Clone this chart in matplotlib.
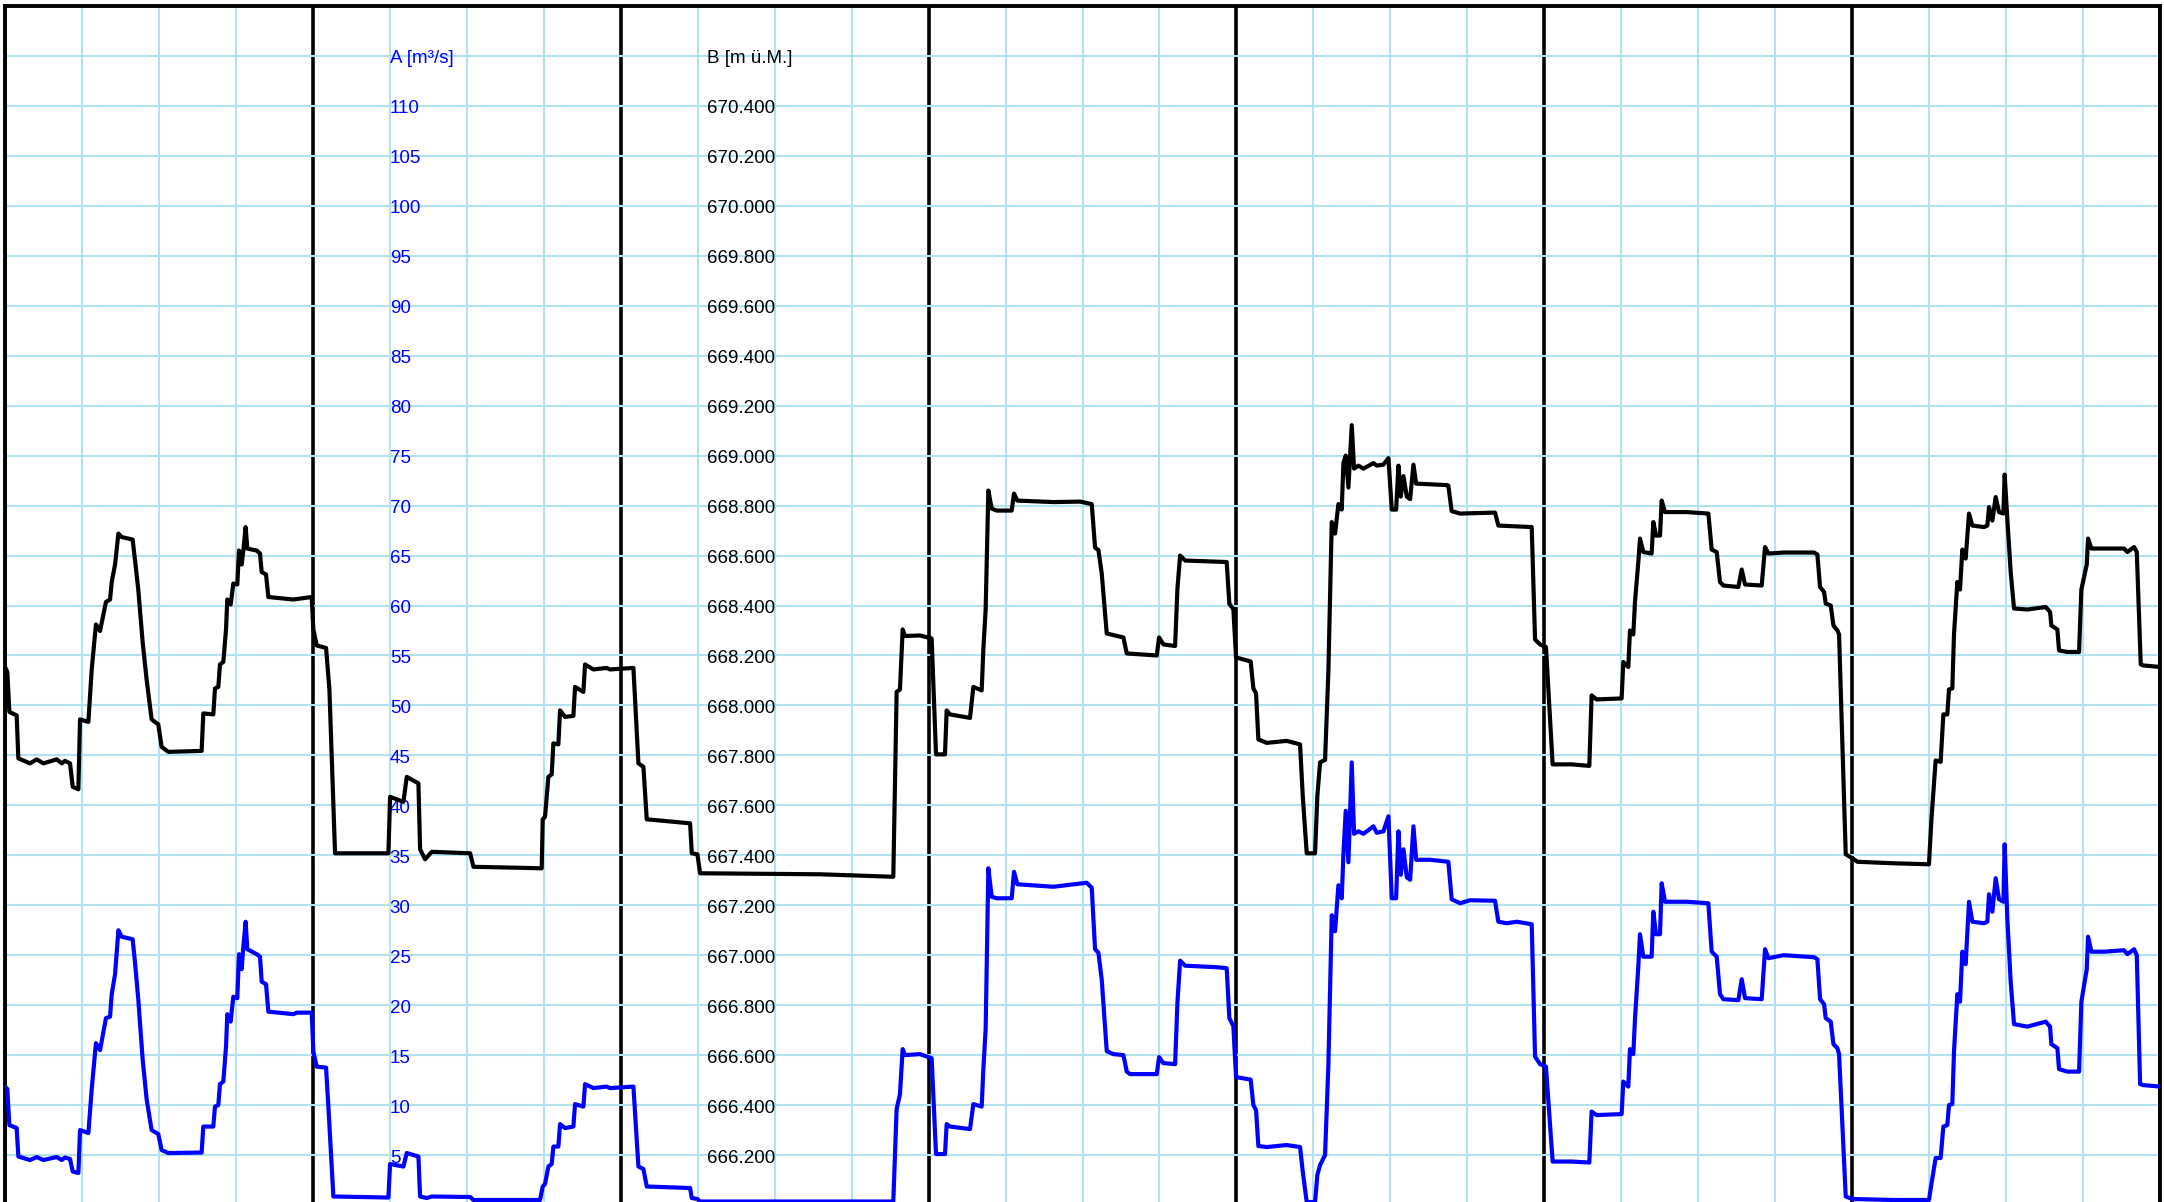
import matplotlib
matplotlib.use("Agg")
import matplotlib.pyplot as plt

# Abfluss A [m3/s] -- Zeit in Stunden ab Beginn der Woche
hours_a = [0.0, 0.18, 0.34, 0.91, 1.04, 1.95, 2.47, 2.99, 4.03, 4.42, 4.68, 5.07, 5.28, 5.72, 5.85,
           6.50, 6.76, 7.09, 7.41, 7.87, 8.19, 8.32, 8.58, 8.84, 9.10, 9.95, 10.13, 10.39, 10.73,
           11.04, 11.43, 11.95, 12.21, 12.73, 15.33, 15.46, 16.24, 16.37, 16.63, 16.76, 17.02,
           17.23, 17.33, 17.59, 17.80, 18.11, 18.24, 18.45, 18.58, 18.76, 18.89, 19.62, 19.88,
           20.01, 20.35, 20.53, 22.48, 22.74, 23.91, 24.04, 24.30, 25.03, 25.21, 25.60,
           29.89, 30.02, 31.06, 31.32, 32.23, 32.36, 32.88, 33.27, 36.26, 36.52, 41.71, 41.92,
           42.10, 42.36, 42.62, 42.75, 43.14, 43.27, 43.66, 44.31, 44.44, 45.09, 45.22, 45.87,
           46.91, 47.17, 48.99, 49.38, 49.77, 50.03, 53.41, 53.54, 53.98, 54.19,
           69.25, 69.51, 69.77, 69.98, 70.16, 71.33, 72.24, 72.58, 73.28, 73.41, 73.67, 75.23,
           75.49, 76.14, 76.27, 76.45, 76.66, 76.92, 77.31, 78.48, 78.66, 78.92, 81.73,
           84.33, 84.72, 84.98, 85.24, 85.50, 85.89, 86.41, 87.19, 87.45, 87.71, 89.79, 89.97,
           90.31, 91.22, 91.40, 91.61, 92.00, 94.46, 95.24, 95.45, 95.76, 95.97, 97.11, 97.32,
           97.53, 97.71, 98.36, 99.92, 100.96, 101.17, 101.48, 102.13, 102.31, 102.52, 102.91,
           103.17, 103.43, 103.69, 103.95, 104.21, 104.34, 104.52, 104.73, 104.99, 105.17,
           105.51, 105.90, 106.68, 106.94, 107.46, 107.85, 108.11, 108.45, 108.63, 108.81,
           109.02, 109.28, 109.54, 109.80, 110.01, 111.10,
           112.52, 112.78, 113.43, 114.21, 116.16, 116.42, 117.07, 117.85, 119.02, 119.28,
           119.67, 120.13, 120.65, 122.13, 123.51, 123.69, 124.08, 126.03, 126.16, 126.55,
           126.68, 126.94, 127.07, 127.33, 127.46, 127.72, 128.37, 128.50, 128.71, 129.02,
           129.15, 129.41, 131.10, 132.79, 133.05, 133.44, 133.70, 133.96, 135.13, 135.39,
           135.65, 136.95, 137.21, 137.47, 138.64, 141.03,
           141.29, 141.50, 141.81, 141.94, 142.33, 142.54, 142.85, 142.98, 143.50, 144.02,
           147.27, 149.99, 150.18, 150.51, 150.90, 151.11, 151.42, 151.55, 151.81, 151.94,
           152.20, 152.41, 152.59, 152.85, 153.11, 153.37, 154.28, 154.54, 154.67, 154.93,
           155.19, 155.45, 155.79, 155.89, 156.10, 156.36, 156.62, 157.66, 159.09, 159.43,
           159.53, 160.00, 160.13, 160.78, 161.69, 161.87, 162.29, 162.39, 162.65, 163.64,
           165.20, 165.46, 165.98, 166.19, 166.45, 166.70, 168.0]
flow_a = [11.85, 11.6, 8.0, 7.7, 4.85, 4.5, 4.8, 4.5, 4.8, 4.5, 4.75, 4.6, 3.35, 3.2, 7.5,
          7.2, 11.6, 16.2, 15.5, 18.7, 18.85, 21.1, 23.1, 27.5, 26.85, 26.6, 24.35, 20.6, 14.6,
          10.6, 7.5, 7.1, 5.5, 5.2, 5.25, 7.85, 7.85, 9.85, 10.0, 12.1, 12.35,
          15.85, 19.1, 18.35, 20.85, 20.7, 25.1, 23.6, 25.85, 28.35, 25.6, 25.1, 24.85,
          22.35, 22.1, 19.35, 19.1, 19.25, 19.25, 15.35, 13.85, 13.75, 9.85, 0.85,
          0.75, 4.1, 3.85, 5.2, 4.85, 0.85, 0.7, 0.85, 0.8, 0.5, 0.5, 1.85,
          2.1, 3.85, 4.1, 5.85, 5.85, 8.1, 7.7, 7.85, 10.1, 9.85, 12.1, 11.7,
          11.85, 11.7, 11.85, 3.85, 3.6, 1.85, 1.7, 0.7, 0.6, 0.35,
          0.35, 9.6, 11.1, 15.6, 15.0, 15.1, 14.7, 5.1, 5.1, 8.1, 7.85, 7.6,
          10.1, 9.85, 13.6, 17.6, 33.7, 30.85, 30.7, 30.7, 33.35, 32.1, 31.85,
          32.25, 31.75, 25.6, 25.25, 22.55, 15.4, 15.1, 15.0, 13.35, 13.1, 13.1, 14.8,
          14.2, 14.1, 20.25, 24.45, 23.95, 23.8, 23.7, 18.7, 17.9, 12.8, 12.55, 10.0,
          9.5, 5.9, 5.8, 6.0, 5.8, 3.35, 0.3, 0.3, 3.0, 4.0, 5.0,
          14.1, 29.0, 27.4, 32.0, 30.7, 35.1, 39.45, 34.3, 44.3, 37.15,
          37.4, 37.15, 37.9, 37.25, 37.4, 38.9, 30.7, 30.7, 37.4, 33.05,
          35.6, 32.8, 32.55, 37.9, 34.55, 34.55,
          34.35, 30.6, 30.2, 30.5, 30.45, 28.35, 28.2, 28.35, 28.1, 14.85,
          14.1, 13.85, 4.35, 4.35, 4.25, 9.35, 9.0, 9.1, 12.35, 11.85,
          15.6, 15.1, 18.6, 23.85, 27.1, 24.85, 24.85, 29.35, 27.1, 27.1,
          32.2, 30.35, 30.35, 30.2, 25.35, 24.85, 21.1, 20.6, 20.5, 22.6,
          20.7, 20.6, 25.6, 24.7, 25.0, 24.8,
          24.6, 20.6, 20.1, 18.7, 18.35, 16.1, 15.7, 15.1, 0.85, 0.6,
          0.5, 0.5, 2.1, 4.7, 4.7, 7.85, 8.0, 10.0, 10.1, 15.35,
          21.1, 20.35, 25.35, 24.1, 30.35, 28.35, 28.2, 28.35, 31.1, 29.35,
          32.7, 30.6, 30.35, 36.1, 28.6, 22.35, 18.1, 17.85, 18.35, 17.85,
          16.1, 15.7, 13.6, 13.35, 13.35, 20.35, 23.6, 26.85, 25.35, 25.35,
          25.5, 25.1, 25.6, 25.0, 12.1, 12.0, 11.85]

# Pegel B [m ü.M.]
hours_b = [0.0, 0.18, 0.34, 0.91, 1.04, 1.95, 2.47, 2.99, 4.03, 4.42, 4.68, 5.07, 5.28, 5.72, 5.85,
           6.50, 6.76, 7.09, 7.41, 7.87, 8.19, 8.32, 8.58, 8.84, 9.10, 9.95, 10.13, 10.39, 10.73,
           11.04, 11.43, 11.95, 12.21, 12.73, 15.33, 15.46, 16.24, 16.37, 16.63, 16.76, 17.02,
           17.23, 17.33, 17.59, 17.80, 18.11, 18.24, 18.45, 18.58, 18.76, 18.89, 19.62, 19.88,
           20.01, 20.35, 20.53, 22.48, 23.91, 24.04, 24.30, 25.03, 25.29, 25.73,
           29.89, 30.02, 31.06, 31.32, 32.23, 32.36, 32.75, 33.27, 36.26, 36.52, 41.84, 41.92,
           42.10, 42.36, 42.62, 42.75, 43.14, 43.27, 43.66, 44.31, 44.44, 45.09, 45.22, 45.87,
           46.91, 47.17, 48.99, 49.38, 49.77, 50.03, 53.41, 53.54, 53.98, 54.19,
           63.54, 69.25, 69.51, 69.77, 69.98, 70.16, 71.33, 72.24, 72.58, 73.28, 73.41, 73.67,
           75.23, 75.49, 76.14, 76.27, 76.45, 76.66, 76.92, 77.31, 78.48, 78.66, 78.92, 81.73,
           83.81, 84.72, 84.98, 85.24, 85.50, 85.89, 87.19, 87.45, 89.79, 89.97, 90.31, 91.22,
           91.40, 91.61, 92.00, 95.24, 95.45, 95.76, 95.97, 97.11, 97.32, 97.53, 97.71, 98.36,
           99.92, 100.96, 101.17, 101.48, 102.13, 102.31, 102.52, 102.91, 103.17, 103.43,
           103.69, 103.95, 104.21, 104.34, 104.52, 104.73, 104.99, 105.17, 105.51, 105.90,
           106.68, 106.94, 107.46, 107.85, 108.11, 108.45, 108.63, 108.81, 109.02, 109.28,
           109.54, 109.80, 110.01, 112.40,
           112.52, 112.78, 113.43, 116.16, 116.42, 119.02, 119.28, 119.67, 120.13, 120.65,
           122.13, 123.51, 123.69, 124.08, 126.03, 126.16, 126.55, 126.68, 126.94, 127.07,
           127.33, 127.46, 127.72, 128.37, 128.50, 128.71, 129.02, 129.15, 129.41, 131.10,
           132.79, 133.05, 133.44, 133.70, 133.96, 135.13, 135.39, 135.65, 136.95, 137.21,
           137.47, 138.64, 141.03,
           141.29, 141.50, 141.81, 141.94, 142.33, 142.54, 142.85, 142.98, 143.50, 144.02,
           144.41, 147.27, 149.99, 150.18, 150.51, 150.90, 151.11, 151.42, 151.55, 151.81,
           151.94, 152.20, 152.41, 152.59, 152.85, 153.11, 153.37, 154.28, 154.54, 154.67,
           154.93, 155.19, 155.45, 155.79, 155.89, 156.10, 156.36, 156.62, 157.66, 159.09,
           159.43, 159.53, 160.00, 160.13, 160.78, 161.69, 161.87, 162.29, 162.39, 162.65,
           165.20, 165.46, 165.98, 166.19, 166.50, 166.70, 168.0]
level_b = [668.154, 668.134, 667.974, 667.960, 667.788, 667.768, 667.784, 667.768, 667.784,
           667.768, 667.778, 667.768, 667.674, 667.664, 667.944,
           667.934, 668.144, 668.324, 668.298, 668.414, 668.424, 668.494, 668.564, 668.688,
           668.674, 668.664, 668.584, 668.464, 668.254,
           668.104, 667.944, 667.924, 667.834, 667.814, 667.818, 667.968, 667.964, 668.068,
           668.074, 668.164, 668.174,
           668.304, 668.424, 668.404, 668.488, 668.484, 668.620, 668.564, 668.620, 668.714,
           668.628, 668.620, 668.608,
           668.534, 668.524, 668.434, 668.424, 668.434, 668.304, 668.240, 668.230, 668.064,
           667.408,
           667.408, 667.634, 667.614, 667.714, 667.688, 667.424, 667.384, 667.414, 667.408,
           667.354, 667.348, 667.544,
           667.554, 667.714, 667.724, 667.848, 667.844, 667.980, 667.954, 667.958, 668.074,
           668.054, 668.164, 668.144,
           668.150, 668.144, 668.150, 667.768, 667.754, 667.544, 667.528, 667.408, 667.404,
           667.328,
           667.324, 667.314, 668.054, 668.064, 668.304, 668.278, 668.280, 668.268, 667.804,
           667.804, 667.980, 667.964,
           667.950, 668.074, 668.060, 668.224, 668.384, 668.860, 668.788, 668.780, 668.780,
           668.848, 668.820, 668.814,
           668.816, 668.806, 668.632, 668.622, 668.528, 668.288, 668.272, 668.208, 668.200,
           668.272, 668.244, 668.238,
           668.468, 668.600, 668.580, 668.574, 668.406, 668.386, 668.192, 668.176, 668.068,
           668.048, 667.864, 667.850,
           667.858, 667.844, 667.638, 667.408, 667.408, 667.638, 667.772, 667.782, 668.140,
           668.734,
           668.688, 668.806, 668.784, 668.970, 669.000, 668.872, 669.122, 668.948, 668.960,
           668.948,
           668.970, 668.960, 668.964, 668.990, 668.784, 668.784, 668.960, 668.836, 668.918,
           668.836,
           668.826, 668.964, 668.888, 668.882,
           668.880, 668.778, 668.768, 668.772, 668.720, 668.714, 668.264, 668.244, 668.234,
           667.764,
           667.764, 667.758, 668.040, 668.024, 668.028, 668.174, 668.154, 668.300, 668.284,
           668.414,
           668.574, 668.668, 668.614, 668.608, 668.734, 668.680, 668.680, 668.820, 668.774,
           668.774,
           668.768, 668.624, 668.614, 668.494, 668.480, 668.474, 668.544, 668.484, 668.480,
           668.634,
           668.608, 668.612, 668.612,
           668.604, 668.474, 668.454, 668.408, 668.400, 668.320, 668.300, 668.284, 667.404,
           667.388,
           667.374, 667.368, 667.364, 667.544, 667.780, 667.774, 667.964, 667.964, 668.064,
           668.068,
           668.284, 668.494, 668.464, 668.624, 668.588, 668.768, 668.720, 668.714, 668.720,
           668.794,
           668.740, 668.834, 668.774, 668.768, 668.924, 668.744, 668.534, 668.388, 668.384,
           668.394,
           668.374, 668.320, 668.304, 668.220, 668.214, 668.214, 668.464, 668.564, 668.668,
           668.628,
           668.628, 668.614, 668.634, 668.614, 668.164, 668.160, 668.154]

# Beschriftung der Skalen (im Diagramm)
ticks_a = list(range(5, 115, 5))
labels_a = [str(v) for v in ticks_a]
labels_b = ["%.3f" % (666.0 + 0.04 * v) for v in ticks_a]
title_a = "A [m³/s]"
title_b = "B [m ü.M.]"

plt.rcParams['font.family'] = ['Liberation Sans', 'DejaVu Sans']

W, H = 2164, 1202
fig = plt.figure(figsize=(W / 100, H / 100), dpi=100)
x0, x1 = 5, 2160
y_top, y_zero = 6, 1205
ax = fig.add_axes([x0 / W, (H - y_zero) / H, (x1 - x0) / W, (y_zero - y_top) / H])

grid_col = '#b0e2f0'
ax.set_xlim(0, 168)
ax.set_ylim(0, 120)
ax.set_xticks(range(0, 169, 24))
ax.set_xticks(range(0, 169, 6), minor=True)
ax.set_yticks(range(0, 121, 5))
ax.tick_params(which='both', length=0, labelbottom=False, labelleft=False)
ax.xaxis.grid(True, which='minor', color=grid_col, linewidth=1.5)
ax.xaxis.grid(True, which='major', color='black', linewidth=2.6)
ax.yaxis.grid(True, which='major', color=grid_col, linewidth=1.5)
for s in ['left', 'right', 'top']:
    ax.spines[s].set_linewidth(2.8)
ax.spines['bottom'].set_visible(False)

# Skalen als Text innerhalb der Flaeche
fs = 13.5
dy = -0.3
ax.text(30.0, 115 + dy, title_a, color='blue', fontsize=fs, va='center', ha='left', zorder=2)
ax.text(54.73, 115 + dy, title_b, color='black', fontsize=fs, va='center', ha='left', zorder=2)
for v, la, lb in zip(ticks_a, labels_a, labels_b):
    ax.text(30.0, v + dy, la, color='blue', fontsize=fs, va='center', ha='left', zorder=2)
    ax.text(54.73, v + dy, lb, color='black', fontsize=fs, va='center', ha='left', zorder=2)

ax.plot(hours_a, flow_a, color='blue', linewidth=3.0, zorder=3, solid_joinstyle='round')

ax2 = ax.twinx()
ax2.set_ylim(666.0, 666.0 + 0.04 * 120)
ax2.set_yticks([])
for s in ax2.spines.values():
    s.set_visible(False)
ax2.plot(hours_b, level_b, color='black', linewidth=3.0, zorder=3, solid_joinstyle='round')

fig.savefig('out.png', dpi=100)
